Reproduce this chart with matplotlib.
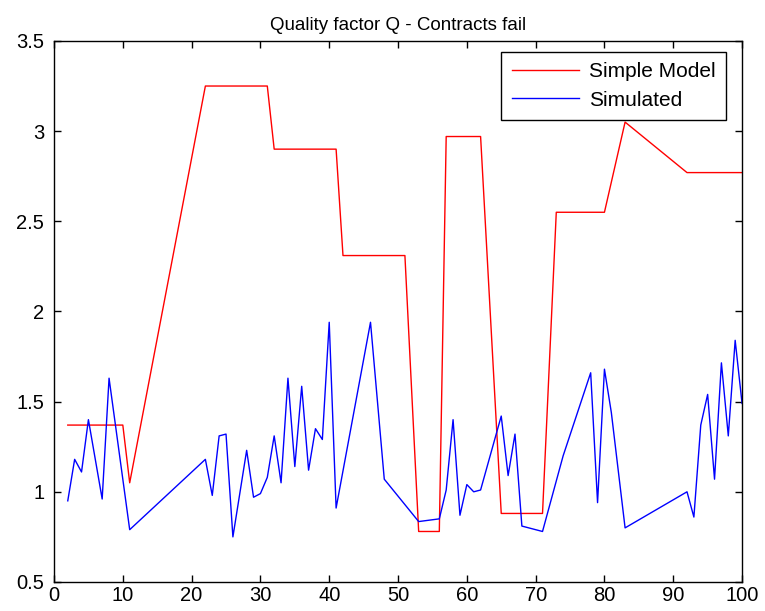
import matplotlib
matplotlib.use("Agg")
import matplotlib.pyplot as plt
from matplotlib.ticker import FuncFormatter, MultipleLocator

title = "Quality factor Q - Contracts fail"
series_names = ["Simple Model", "Simulated"]

# Simple model estimate of Q
model_x = [2, 10, 11, 22, 31, 32, 41, 42, 51, 53, 56, 57, 62, 65, 71, 73, 80, 83, 92, 100]
model_q = [1.37, 1.37, 1.05, 3.25, 3.25, 2.90, 2.90, 2.31, 2.31, 0.78, 0.78, 2.97,
           2.97, 0.88, 0.88, 2.55, 2.55, 3.05, 2.77, 2.77]

# Simulated Q
sim_x = [2, 3, 4, 5, 7, 8, 11, 22, 23, 24, 25, 26, 28, 29, 30, 31, 32, 33, 34, 35,
         36, 37, 38, 39, 40, 41, 46, 48, 53, 56, 57, 58, 59, 60, 61, 62, 65, 66, 67,
         68, 71, 74, 78, 79, 80, 81, 82, 83, 92, 93, 94, 95, 96, 97, 98, 99, 100]
sim_q = [0.95, 1.18, 1.11, 1.40, 0.96, 1.63, 0.79, 1.18, 0.98, 1.31, 1.32, 0.75,
         1.23, 0.97, 0.99, 1.08, 1.31, 1.05, 1.63, 1.14, 1.585, 1.12, 1.35, 1.29,
         1.94, 0.91, 1.94, 1.07, 0.835, 0.85, 1.01, 1.40, 0.87, 1.04, 1.00, 1.01,
         1.42, 1.09, 1.32, 0.81, 0.78, 1.20, 1.66, 0.94, 1.68, 1.44, 1.12, 0.80,
         1.00, 0.86, 1.37, 1.54, 1.07, 1.715, 1.31, 1.84, 1.49]

x_limits = (0, 100)
y_limits = (0.5, 3.5)

plt.rcParams["font.family"] = ["Liberation Sans", "DejaVu Sans"]

W, H = 765, 611
fig = plt.figure(figsize=(W / 100, H / 100), dpi=100)
ax = fig.add_axes([0.0706, 0.0475, 0.8994, 0.8855])

ax.plot(model_x, model_q, color="#ff0000", lw=1.0, label=series_names[0])
ax.plot(sim_x, sim_q, color="#0000ff", lw=1.0, label=series_names[1])

ax.set_xlim(*x_limits)
ax.set_ylim(*y_limits)
ax.xaxis.set_major_locator(MultipleLocator(10))
ax.yaxis.set_major_locator(MultipleLocator(0.5))
ax.yaxis.set_major_formatter(FuncFormatter(lambda v, p: f"{v:g}"))
ax.xaxis.set_major_formatter(FuncFormatter(lambda v, p: f"{v:g}"))
ax.tick_params(direction="in", top=True, right=True, length=5, width=1,
               labelsize=14.5)
ax.tick_params(axis="y", pad=7)
ax.tick_params(axis="x", pad=3)
for s in ax.spines.values():
    s.set_linewidth(1.0)
    s.set_color("black")

ax.set_title(title, fontsize=13.5, pad=8)

leg = ax.legend(loc="upper right", bbox_to_anchor=(726 / W, 1 - 52 / H),
                bbox_transform=fig.transFigure, borderaxespad=0,
                fontsize=15, handlelength=3.2, fancybox=False, framealpha=1,
                edgecolor="black", borderpad=0.5, labelspacing=0.45,
                handletextpad=0.5)
leg.get_frame().set_linewidth(1.0)

fig.savefig("out.png", dpi=100)
